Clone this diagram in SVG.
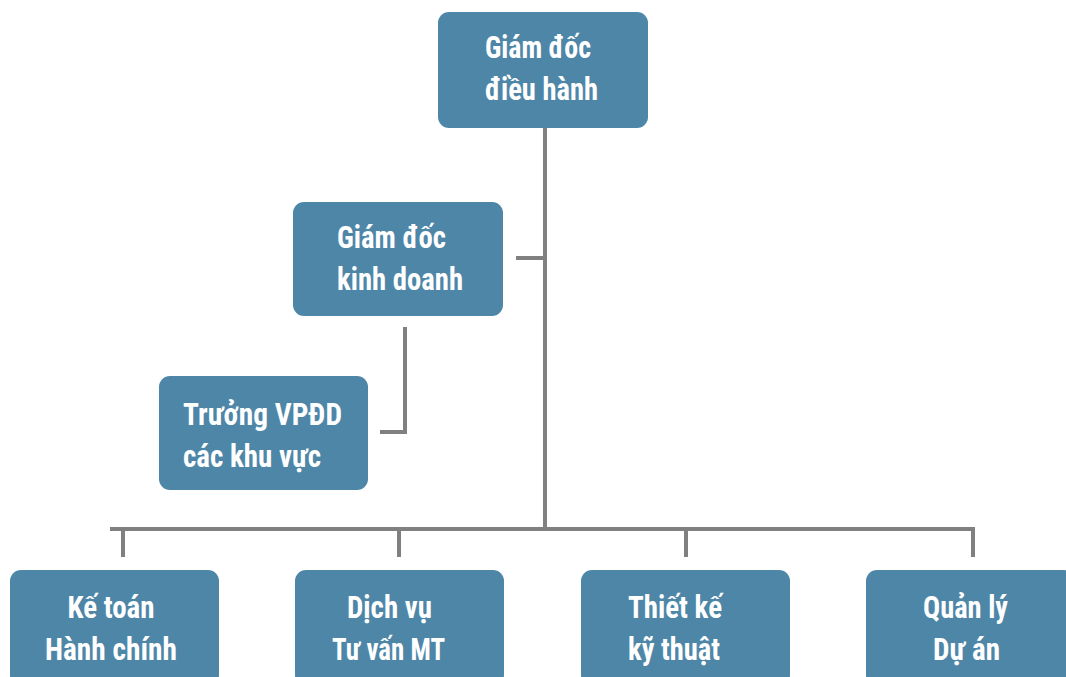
<svg xmlns="http://www.w3.org/2000/svg" width="1066" height="677" viewBox="0 0 1066 677">
<style>
.box{fill:#4E86A8;}
.t{fill:#ffffff;font-family:"Roboto Condensed",Roboto,"Liberation Sans",sans-serif;font-weight:bold;font-size:32px;}
.c{text-anchor:middle;}
.ln{stroke:#808080;stroke-width:4;fill:none;}
</style>
<rect width="1066" height="677" fill="#ffffff"/>
<g id="connectors">
<line class="ln" x1="545" y1="128" x2="545" y2="529"/>
<line class="ln" x1="516" y1="258" x2="545" y2="258"/>
<polyline class="ln" points="405,327 405,432 380,432"/>
<line class="ln" x1="110" y1="529" x2="975" y2="529"/>
<line class="ln" x1="123" y1="529" x2="123" y2="557"/>
<line class="ln" x1="399" y1="529" x2="399" y2="557"/>
<line class="ln" x1="686" y1="529" x2="686" y2="557"/>
<line class="ln" x1="973" y1="529" x2="973" y2="557"/>
</g>
<g id="gd-dieu-hanh">
<rect class="box" x="438" y="12" width="210" height="116" rx="11"/>
<text class="t" x="485" y="58" textLength="106" lengthAdjust="spacingAndGlyphs">Giám đốc</text>
<text class="t" x="485" y="100" textLength="113" lengthAdjust="spacingAndGlyphs">điều hành</text>
</g>
<g id="gd-kinh-doanh">
<rect class="box" x="293" y="202" width="210" height="114" rx="11"/>
<text class="t" x="337" y="248" textLength="109" lengthAdjust="spacingAndGlyphs">Giám đốc</text>
<text class="t" x="337" y="290" textLength="126" lengthAdjust="spacingAndGlyphs">kinh doanh</text>
</g>
<g id="truong-vpdd">
<rect class="box" x="159" y="376" width="209" height="114" rx="11"/>
<text class="t" x="183" y="425" textLength="159" lengthAdjust="spacingAndGlyphs">Trưởng VPĐD</text>
<text class="t" x="183" y="467" textLength="138" lengthAdjust="spacingAndGlyphs">các khu vực</text>
</g>
<g id="ke-toan">
<rect class="box" x="10" y="570" width="209" height="116" rx="11"/>
<text class="t c" x="111" y="618" textLength="87" lengthAdjust="spacingAndGlyphs">Kế toán</text>
<text class="t c" x="111" y="660" textLength="132" lengthAdjust="spacingAndGlyphs">Hành chính</text>
</g>
<g id="dich-vu">
<rect class="box" x="295" y="570" width="209" height="116" rx="11"/>
<text class="t c" x="389.5" y="618" textLength="85" lengthAdjust="spacingAndGlyphs">Dịch vụ</text>
<text class="t c" x="388.5" y="660" textLength="113" lengthAdjust="spacingAndGlyphs">Tư vấn MT</text>
</g>
<g id="thiet-ke">
<rect class="box" x="581" y="570" width="209" height="116" rx="11"/>
<text class="t c" x="675" y="618" textLength="94" lengthAdjust="spacingAndGlyphs">Thiết kế</text>
<text class="t c" x="674" y="660" textLength="92" lengthAdjust="spacingAndGlyphs">kỹ thuật</text>
</g>
<g id="quan-ly">
<rect class="box" x="866" y="570" width="209" height="116" rx="11"/>
<text class="t c" x="965.5" y="618" textLength="85" lengthAdjust="spacingAndGlyphs">Quản lý</text>
<text class="t c" x="966.5" y="660" textLength="67" lengthAdjust="spacingAndGlyphs">Dự án</text>
</g>
</svg>
